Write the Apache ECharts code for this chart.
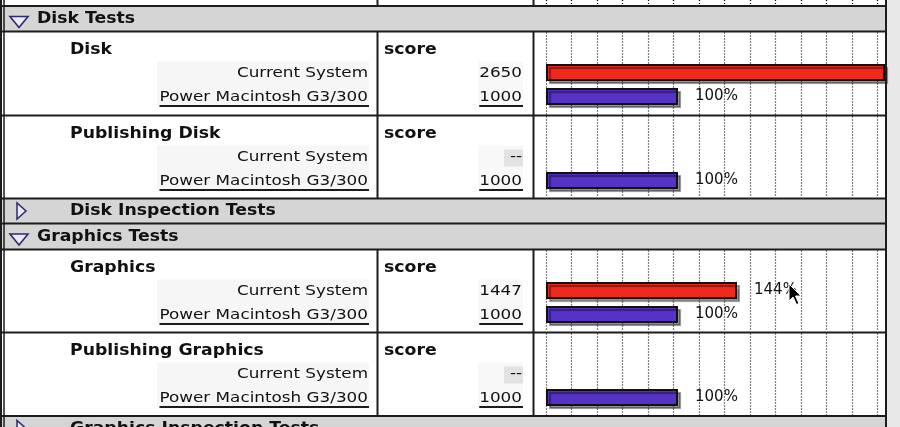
<!DOCTYPE html>
<html><head><meta charset="utf-8">
<script src="https://cdn.jsdelivr.net/npm/echarts@6/dist/echarts.min.js"></script>
<style>html,body{margin:0;padding:0;background:#fff}#c{width:900px;height:427px}</style>
</head><body><div id="c"></div>
<script>
// ---------- data ----------
const groupNames = ['Disk Tests', 'Disk Inspection Tests', 'Graphics Tests', 'Graphics Inspection Tests'];
const groupOpen = [true, false, true, false];
const testNames = ['Disk', 'Publishing Disk', 'Graphics', 'Publishing Graphics'];
const systems = ['Current System', 'Power Macintosh G3/300'];
const currentScores = [2650, null, 1447, null];
const referenceScores = [1000, 1000, 1000, 1000];
const scoreHeader = 'score';
const missingText = '--';

// ---------- layout / style ----------
const RIGHT = 886, COL1 = 377.5, COL2 = 533.5;
const BAR_LEFT = 546, BAR_RIGHT = 884;
const PX_PER_UNIT = 0.132;
const GRID_STEP = 25.48;
const RED = '#f0291d', BLUE = '#5632c6', INK = '#111';
const BAND = '#d5d5d5', RULE = '#1c1c1c';
const REG = '14px "DejaVu Sans"', REG_SX = 1.2;
const BOLD = 'bold 16px "DejaVu Sans"', BOLD_SX = 1.08;
const layoutRows = [
  {kind:'tail', y0:-2, y1:6},
  {kind:'group', g:0, y0:6, y1:31.5},
  {kind:'test', t:0, y0:31.5, y1:115.5},
  {kind:'test', t:1, y0:115.5, y1:198.5},
  {kind:'group', g:1, y0:198.5, y1:223.5},
  {kind:'group', g:2, y0:223.5, y1:249.5},
  {kind:'test', t:2, y0:249.5, y1:332.5},
  {kind:'test', t:3, y0:332.5, y1:416},
  {kind:'group', g:3, y0:416, y1:441.5}
];

const mctx = document.createElement('canvas').getContext('2d');
function textW(t, font, sx){ mctx.font = font; return mctx.measureText(t).width * sx; }

const grids = [], xAxes = [], yAxes = [], series = [], gfx = [];

function addDotGrid(y0, y1){
  const gi = grids.length;
  grids.push({left: BAR_LEFT, top: y0 + 1, width: RIGHT - BAR_LEFT, height: y1 - y0 - 2});
  xAxes.push({gridIndex: gi, type: 'value', min: 0, max: (RIGHT - BAR_LEFT) / GRID_STEP, interval: 1,
    axisLine: {show: false}, axisTick: {show: false}, axisLabel: {show: false},
    splitLine: {show: true, lineStyle: {type: [1, 2], color: '#000', width: 1.2}}});
  yAxes.push({gridIndex: gi, type: 'value', min: 0, max: 1, show: false});
}

function addBarGrid(t, y0){
  const gi = grids.length;
  const xMax = (BAR_RIGHT - BAR_LEFT) / PX_PER_UNIT;
  grids.push({left: BAR_LEFT, top: y0 + 29, width: BAR_RIGHT - BAR_LEFT, height: 48});
  xAxes.push({gridIndex: gi, type: 'value', min: 0, max: xMax, show: false});
  yAxes.push({gridIndex: gi, type: 'category', data: systems, inverse: true, show: false});
  series.push({
    type: 'bar', xAxisIndex: gi, yAxisIndex: gi, barWidth: 17, clip: true, silent: true,
    data: [
      {value: currentScores[t], itemStyle: {color: RED}},
      {value: referenceScores[t], itemStyle: {color: BLUE}}
    ],
    itemStyle: {borderColor: INK, borderWidth: 2, shadowColor: 'rgba(0,0,0,0.4)', shadowOffsetX: 3, shadowOffsetY: 3, shadowBlur: 1},
    label: {show: true, position: 'right', distance: 17, fontFamily: 'DejaVu Sans', fontSize: 15, color: INK,
      formatter: p => (p.value == null || isNaN(p.value) || p.value > xMax) ? '' :
        Math.floor(p.value / referenceScores[t] * 100) + '%'}
  });
}

function txt(s, x, y, font, sx, align){
  return {type: 'text', x: x, y: y, scaleX: sx, z: 20,
    style: {text: s, font: font, fill: INK, align: align || 'left', verticalAlign: 'middle'}};
}
function line(x1, y1, x2, y2, w, c){
  return {type: 'line', z: 30, shape: {x1, y1, x2, y2}, style: {stroke: c || RULE, lineWidth: w}};
}

layoutRows.forEach(r => {
  if (r.kind === 'group') {
    gfx.push({type: 'rect', z: 1, shape: {x: 0, y: r.y0, width: RIGHT, height: r.y1 - r.y0}, style: {fill: BAND}});
    const top = r.y0;
    if (groupOpen[r.g]) {
      gfx.push({type: 'polygon', z: 25, shape: {points: [[10, top + 10.5], [28, top + 10.5], [19, top + 21.5]]},
        style: {fill: '#ecebf7', stroke: '#2b2a72', lineWidth: 1.6}});
      gfx.push(txt(groupNames[r.g], 37, (r.y0 + r.y1) / 2, BOLD, BOLD_SX));
    } else {
      gfx.push({type: 'polygon', z: 25, shape: {points: [[17, top + 4.5], [17, top + 20.5], [26, top + 12.5]]},
        style: {fill: '#ecebf7', stroke: '#2b2a72', lineWidth: 1.5}});
      gfx.push(txt(groupNames[r.g], 70, (r.y0 + r.y1) / 2, BOLD, BOLD_SX));
    }
  } else {
    addDotGrid(r.y0, r.y1);
    gfx.push(line(COL1, r.y0, COL1, r.y1, 2));
    gfx.push(line(COL2, r.y0, COL2, r.y1, 2));
    if (r.kind === 'test') {
      const t = r.t, y0 = r.y0;
      addBarGrid(t, y0);
      gfx.push({type: 'rect', z: 2, shape: {x: 157, y: y0 + 30, width: 212, height: 45}, style: {fill: '#f6f6f6'}});
      gfx.push({type: 'rect', z: 2, shape: {x: 478, y: y0 + 30, width: 45, height: 45}, style: {fill: '#f8f8f8'}});
      gfx.push(txt(testNames[t], 70, y0 + 18.5, BOLD, BOLD_SX));
      gfx.push(txt(scoreHeader, 384, y0 + 18.5, BOLD, BOLD_SX));
      gfx.push(txt(systems[0], 368, y0 + 42, REG, REG_SX, 'right'));
      gfx.push(txt(systems[1], 368, y0 + 65.5, REG, REG_SX, 'right'));
      const wSys = textW(systems[1], REG, REG_SX);
      gfx.push(line(368 - wSys, y0 + 74.5, 369, y0 + 74.5, 2));
      if (currentScores[t] == null) {
        gfx.push({type: 'rect', z: 3, shape: {x: 504, y: y0 + 34, width: 19, height: 17}, style: {fill: '#e2e2e2'}});
        gfx.push(txt(missingText, 522, y0 + 42, REG, REG_SX, 'right'));
      } else {
        gfx.push(txt(String(currentScores[t]), 522, y0 + 42, REG, REG_SX, 'right'));
      }
      const refS = String(referenceScores[t]);
      gfx.push(txt(refS, 522, y0 + 65.5, REG, REG_SX, 'right'));
      const wRef = textW(refS, REG, REG_SX);
      gfx.push(line(522 - wRef, y0 + 74.5, 523, y0 + 74.5, 2));
    }
  }
});

[6, 31.5, 115.5, 198.5, 223.5, 249.5, 332.5, 416].forEach(y => gfx.push(line(0, y, RIGHT, y, 2)));
gfx.push({type: 'rect', z: 1, shape: {x: RIGHT + 1, y: 0, width: 900 - RIGHT, height: 427}, style: {fill: '#e8e8e8'}});
gfx.push(line(RIGHT, 0, RIGHT, 427, 2));
gfx.push({type: 'rect', z: 30, shape: {x: 0, y: 0, width: 2, height: 427}, style: {fill: RULE}});
gfx.push(line(4, 0, 4, 427, 1.5));
gfx.push({type: 'polygon', z: 40, x: 789, y: 284,
  shape: {points: [[0, 0], [0, 17], [4, 13], [7.5, 20.5], [10, 19.5], [6.5, 12], [12, 12]]},
  style: {fill: '#000', stroke: '#fff', lineWidth: 1}});

const chart = echarts.init(document.getElementById('c'), null, {renderer: 'canvas'});
chart.setOption({
  backgroundColor: '#ffffff',
  animation: false,
  grid: grids, xAxis: xAxes, yAxis: yAxes, series: series,
  graphic: {elements: gfx}
});
</script>
</body></html>
